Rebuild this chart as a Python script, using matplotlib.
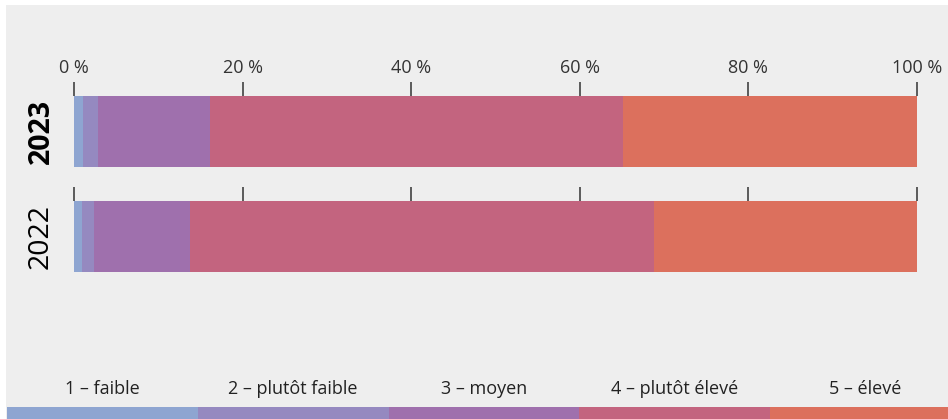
import matplotlib
matplotlib.use("Agg")
import matplotlib.pyplot as plt
from matplotlib.patches import Rectangle
from matplotlib import font_manager

# ---- data ----
categories = ['1 – faible', '2 – plutôt faible', '3 – moyen', '4 – plutôt élevé', '5 – élevé']
years = ['2023', '2022']
values_2023 = [1.1, 1.8, 13.2, 49.0, 34.9]
values_2022 = [1.0, 1.4, 11.4, 55.0, 31.2]
tick_values = [0, 20, 40, 60, 80, 100]
tick_labels = ['0 %', '20 %', '40 %', '60 %', '80 %', '100 %']
colors = ['#8ea5d1', '#9589c0', '#9f70ad', '#c3647f', '#dc705d']

avail = {f.name for f in font_manager.fontManager.ttflist}
fams = [f for f in ['Liberation Sans Narrow', 'Open Sans', 'DejaVu Sans'] if f in avail]
plt.rcParams['font.family'] = fams

W, H = 948, 419
fig = plt.figure(figsize=(W / 100, H / 100), dpi=100, facecolor='white')
fig.patches.append(Rectangle((6 / W, 0), 1, (H - 5) / H, transform=fig.transFigure,
                             facecolor='#eeeeee', edgecolor='none', zorder=-10))

def px_axes(x0, y0, x1, y1):
    return fig.add_axes([x0 / W, 1 - y1 / H, (x1 - x0) / W, (y1 - y0) / H])

bar_rows = [(values_2023, 96, 167, True), (values_2022, 201, 272, False)]
for vals, y0, y1, show_labels in bar_rows:
    ax = px_axes(74, y0, 917, y1)
    ax.set_facecolor('none')
    left = 0
    for v, c in zip(vals, colors):
        ax.barh(0, v, left=left, height=1, color=c, edgecolor='none')
        left += v
    ax.set_xlim(0, 100)
    ax.set_ylim(-0.5, 0.5)
    for s in ax.spines.values():
        s.set_visible(False)
    ax.set_yticks([])
    ax.xaxis.set_ticks_position('top')
    ax.set_xticks(tick_values)
    ax.tick_params(axis='x', direction='out', length=10, width=1.1, color='#333333',
                   labelsize=13, labelcolor='#333333', pad=4,
                   labeltop=show_labels, labelbottom=False)
    if show_labels:
        ax.set_xticklabels(tick_labels)
    else:
        ax.set_xticklabels([])

# year labels
fig.text(41 / W, 1 - 131 / H, years[0], rotation=90, ha='center', va='center',
         fontsize=20.5, fontweight='bold', color='black')
fig.text(41 / W, 1 - 236 / H, years[1], rotation=90, ha='center', va='center',
         fontsize=20.5, color='black')

# legend strip
seg = 190.8
lax = fig.add_axes([7 / W, 0, 5 * seg / W, 12 / H])
lax.set_facecolor('none')
for i, c in enumerate(colors):
    lax.barh(0, 1, left=i, height=1, color=c, edgecolor='none')
    lax.text(i + 0.5, 2.0, categories[i], ha='center', va='center', fontsize=13,
             color='#222222', transform=lax.transData, clip_on=False)
lax.set_xlim(0, 5)
lax.set_ylim(-0.5, 0.5)
lax.axis('off')

fig.savefig('out.png', dpi=100, facecolor=fig.get_facecolor())
